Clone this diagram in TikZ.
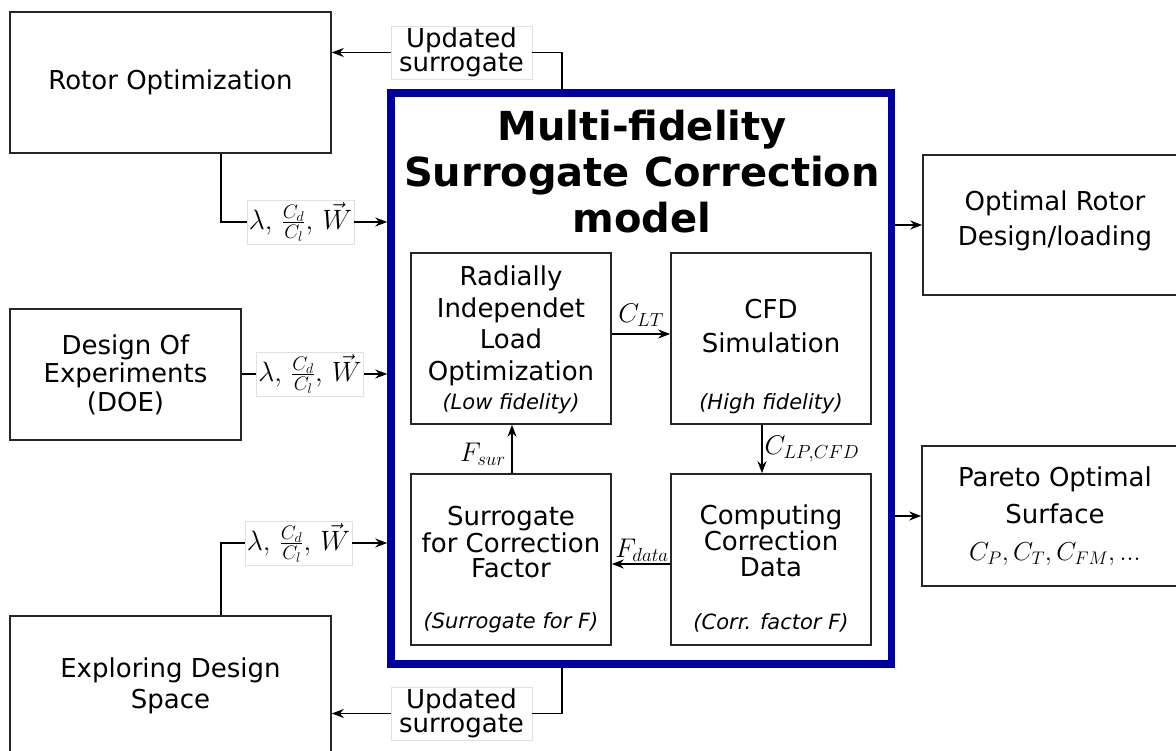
\RequirePackage{fix-cm}
\documentclass[tikz,border=0pt]{standalone}
\usepackage{fontspec}
\setmainfont{DejaVu Sans}[ItalicFont={DejaVu Sans Oblique},BoldFont={DejaVu Sans Bold},BoldItalicFont={DejaVu Sans Bold Oblique}]
\usetikzlibrary{arrows.meta}
\definecolor{navy}{RGB}{0,0,160}
\newcommand{\lamlab}{$\lambda,\, \frac{C_d}{C_l},\, \vec{W}$}
\begin{document}
\begin{tikzpicture}[x=1pt,y=-1pt,
  box/.style={draw=black!85,line width=1.6,inner sep=0,align=center,font=\fontsize{26}{31}\selectfont},
  txt/.style={inner sep=0,align=center},
  sub/.style={inner sep=0,font=\fontsize{21}{25}\selectfont\itshape},
  arr/.style={line width=1.6,-{Stealth[length=12,width=9]}},
  ln/.style={line width=1.6},
  tag/.style={fill=white,draw=black!12,line width=0.6,inner sep=2,font=\fontsize{26}{24}\selectfont,align=center},
  mtag/.style={tag,font=\fontsize{28}{30}\selectfont,minimum width=107,minimum height=44},
  lab/.style={inner sep=0,font=\fontsize{27}{31}\selectfont}]
\useasboundingbox (0,0) rectangle (1176,751);
% outer boxes
\node[box,minimum width=321,minimum height=141] (Rot) at (170.5,82.5) {Rotor Optimization};
\node[box,minimum width=231,minimum height=131,font=\fontsize{26}{28.5}\selectfont] (DOE) at (125.5,374.5) {Design Of\\Experiments\\(DOE)};
\node[box,minimum width=321,minimum height=140] (Exp) at (170.5,686) {Exploring Design\\Space};
\node[box,minimum width=264,minimum height=140] (Opt) at (1055,225) {};
\node[txt,font=\fontsize{26}{35}\selectfont] (OptT) at (1055,221) {Optimal Rotor\\Design/loading};
\node[box,minimum width=266,minimum height=140,font=\fontsize{26}{37}\selectfont] (Par) at (1055,516) {Pareto Optimal\\Surface\\$C_P, C_T, C_{FM}, ...$};
% main container
\node[draw=navy,line width=7.5,minimum width=500.5,minimum height=571,inner sep=0] (M) at (641.25,378.5) {};
\node[txt,font=\fontsize{40}{46}\selectfont\bfseries] (T) at (642,172) {Multi-fidelity\\Surrogate Correction\\model};
% inner boxes
\node[box,minimum width=200,minimum height=171] (R) at (511,338.5) {};
\node[box,minimum width=200,minimum height=171] (C) at (771,338.5) {};
\node[box,minimum width=200,minimum height=171] (S) at (511,559.5) {};
\node[box,minimum width=200,minimum height=171] (D) at (771,559.5) {};
\node[txt,font=\fontsize{26}{31.5}\selectfont] (Rt) at (511,326) {Radially\\Independet\\Load\\Optimization};
\node[sub] (Rs) at (511,404) {(Low fidelity)};
\node[txt,font=\fontsize{26}{34}\selectfont] (Ct) at (771,326) {CFD\\Simulation};
\node[sub] (Cs) at (771,404) {(High fidelity)};
\node[txt,font=\fontsize{26}{25}\selectfont] (St) at (511,542) {Surrogate\\for Correction\\Factor};
\node[sub] (Ss) at (511,623) {(Surrogate for F)};
\node[txt,font=\fontsize{26}{26}\selectfont] (Dt) at (771,541) {Computing\\Correction\\Data};
\node[sub] (Ds) at (771,623) {(Corr. factor F)};
% tags
\node[mtag] (L1) at (300.5,222) {\lamlab};
\node[mtag] (L2) at (310,374) {\lamlab};
\node[mtag] (L3) at (298.5,543) {\lamlab};
\node[tag,minimum width=141,minimum height=50] (U1) at (461.5,52.5) {Updated\\surrogate};
\node[tag,minimum width=141,minimum height=50] (U2) at (461.5,713.5) {Updated\\surrogate};
% helper coordinates
\coordinate (kx1) at (221,0);
\coordinate (kx2) at (562,0);
\coordinate (ky3) at (0,334);
\coordinate (kx4) at (762,0);
\coordinate (kx5) at (512,0);
\coordinate (ky6) at (0,564);
% outer connectors
\draw[ln] (Rot.south -| kx1) |- (L1.west);
\draw[arr] (L1.east) -- (L1.east -| M.west);
\draw[ln] (DOE.east |- L2.west) -- (L2.west);
\draw[arr] (L2.east) -- (L2.east -| M.west);
\draw[ln] (Exp.north -| kx1) |- (L3.west);
\draw[arr] (L3.east) -- (L3.east -| M.west);
\draw[ln] (M.north -| kx2) |- (U1.east);
\draw[arr] (U1.west) -- (U1.west -| Rot.east);
\draw[ln] (M.south -| kx2) |- (U2.east);
\draw[arr] (U2.west) -- (U2.west -| Exp.east);
\draw[arr] (M.east |- Opt.west) -- (Opt.west);
\draw[arr] (M.east |- Par.west) -- (Par.west);
% inner connectors
\draw[arr] (R.east |- ky3) -- (C.west |- ky3);
\draw[arr] (C.south -| kx4) -- (D.north -| kx4);
\draw[arr] (S.north -| kx5) -- (R.south -| kx5);
\draw[arr] (D.west |- ky6) -- (S.east |- ky6);
\node[lab] (lclt) at (641,315) {$C_{LT}$};
\node[lab] (lclp) at (812,449) {$C_{LP,CFD}$};
\node[lab] (lfs) at (483,454) {$F_{sur}$};
\node[lab] (lfd) at (642,550) {$F_{data}$};
\end{tikzpicture}
\end{document}
